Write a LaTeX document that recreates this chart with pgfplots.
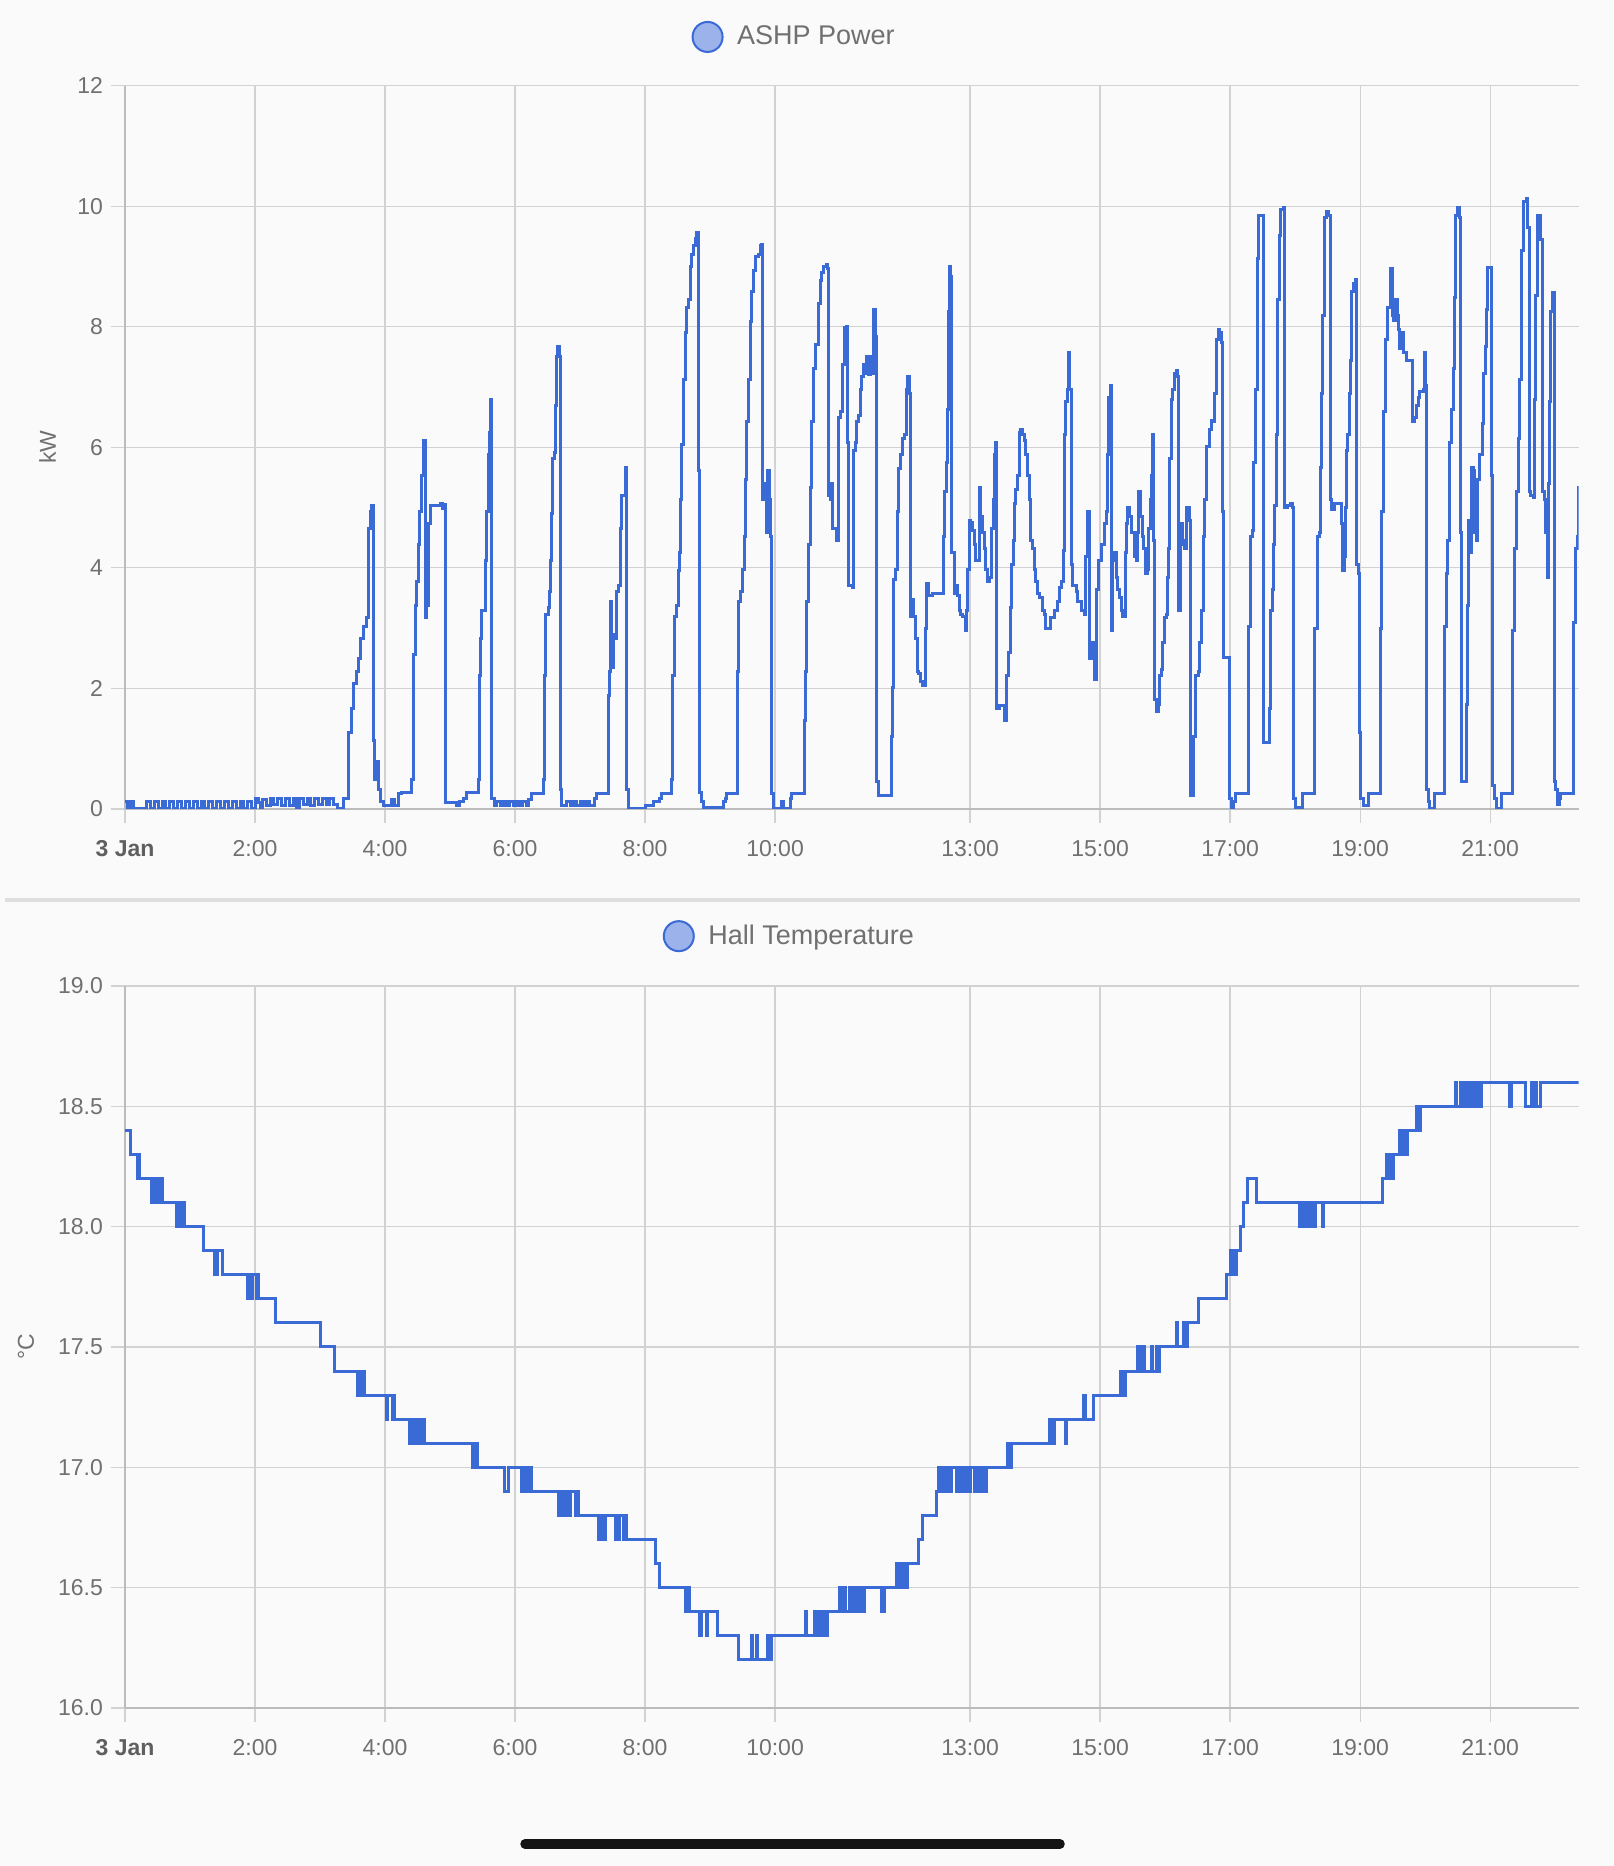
\documentclass[border=0pt]{standalone}
\usepackage{fontspec}
\setmainfont{Liberation Sans}
\usepackage{pgfplots}
\pgfplotsset{compat=1.18}
\definecolor{bg}{RGB}{250,250,250}
\definecolor{lineblue}{RGB}{57,106,214}
\definecolor{legfill}{RGB}{155,178,234}
\definecolor{gridgray}{RGB}{210,210,210}
\definecolor{axisgray}{RGB}{188,188,188}
\definecolor{labgray}{RGB}{112,112,112}
\definecolor{boldgray}{RGB}{95,95,95}
\definecolor{sepgray}{RGB}{222,222,222}

\pgfplotsset{
  hastyle/.style={
    scale only axis,
    width=726.75pt,
    xmin=0, xmax=22.36,
    xtick={0,2,4,6,8,10,13,15,17,19,21},
    xticklabels={\textcolor{boldgray}{\textbf{3 Jan}},2:00,4:00,6:00,8:00,10:00,13:00,15:00,17:00,19:00,21:00},
    axis x line*=bottom, axis y line*=left,
    axis line style={draw=axisgray, line width=1pt, -},
    grid=major,
    major grid style={draw=gridgray, line width=0.6pt},
    tick style={draw=gridgray, line width=0.6pt},
    major tick length=7pt,
    tick align=outside,
    tick label style={text=labgray, font=\fontsize{11.5}{13}\selectfont},
    xticklabel style={yshift=-5pt},
    yticklabel style={xshift=-0.5pt},
    label style={text=labgray, font=\fontsize{11.5}{13}\selectfont},
    legend style={draw=none, fill=none, inner sep=0pt, outer sep=0pt, anchor=west,
      font=\fontsize{13.5}{16}\selectfont, text=labgray, column sep=6.75pt, nodes={inner sep=0pt}},
    legend image code/.code={\draw[draw=lineblue, fill=legfill, line width=1pt] (7.5pt,0pt) circle (7.5pt);},
  }
}

\begin{document}
\begin{tikzpicture}
\useasboundingbox (0,0) rectangle (806.5pt,933pt);
\fill[bg] (0,0) rectangle (806.5pt,933pt);
\draw[sepgray, line width=1.7pt] (2.5pt,483pt) -- (790pt,483pt);
\draw[black!92, line width=4.75pt, line cap=round] (262.5pt,11pt) -- (530pt,11pt);

\begin{axis}[hastyle, at={(62.5pt,528.5pt)}, anchor=south west, height=361.7pt,
  ymin=0, ymax=12, ytick={0,2,4,6,8,10,12}, yticklabels={0,2,4,6,8,10,12},
  ylabel={kW}, ylabel style={at={(axis description cs:-0.0533,0.5)}, anchor=center},
  legend style={at={(0.3898,1.0672)}}]
\addplot[const plot, lineblue, line width=1.5pt] coordinates {
(0,0.12)(0.04,0)(0.08,0.12)(0.13,0)(0.33,0.12)(0.39,0)(0.45,0.12)(0.51,0)(0.57,0.12)(0.63,0)
(0.69,0.12)(0.75,0)(0.81,0.12)(0.87,0)(0.93,0.12)(0.99,0)(1.05,0.12)(1.11,0)(1.17,0.12)(1.23,0)
(1.29,0.12)(1.35,0)(1.41,0.12)(1.47,0)(1.53,0.12)(1.59,0)(1.65,0.12)(1.71,0)(1.77,0.12)(1.83,0)
(1.89,0.12)(1.95,0)(2.0,0.18)(2.05,0.1)(2.08,0.02)(2.12,0.16)(2.18,0.06)(2.24,0.18)(2.29,0.07)
(2.35,0.18)(2.41,0.06)(2.47,0.18)(2.53,0.06)(2.59,0.18)(2.64,0.03)(2.68,0.18)(2.74,0.07)(2.8,0.18)
(2.86,0.06)(2.92,0.18)(2.98,0.07)(3.04,0.18)(3.1,0.07)(3.15,0.18)(3.21,0.08)(3.27,0.0)(3.36,0.17)
(3.436,1.27)(3.487,1.67)(3.513,2.08)(3.564,2.28)(3.59,2.49)(3.626,2.83)(3.667,3.03)(3.718,3.17)
(3.744,4.66)(3.769,4.93)(3.795,5.03)(3.821,1.13)(3.836,0.49)(3.872,0.79)(3.897,0.32)(3.933,0.12)
(3.974,0.05)(4.103,0.15)(4.15,0.05)(4.205,0.25)(4.256,0.28)(4.41,0.49)(4.436,2.56)(4.462,3.37)
(4.477,3.78)(4.513,4.39)(4.538,4.93)(4.564,5.54)(4.59,6.12)(4.615,3.17)(4.641,3.37)(4.667,4.73)
(4.692,5.03)(4.846,5.06)(4.88,4.98)(4.9,5.05)(4.923,4.93)(4.938,0.1)(5.103,0.05)(5.15,0.12)
(5.205,0.18)(5.256,0.28)(5.436,0.49)(5.451,2.22)(5.472,2.83)(5.487,3.3)(5.538,4.12)(5.564,4.93)
(5.59,5.88)(5.605,6.25)(5.626,6.79)(5.641,0.18)(5.68,0.05)(5.72,0.12)(5.77,0.05)(5.82,0.12)
(5.87,0.05)(5.92,0.12)(5.97,0.05)(6.02,0.12)(6.07,0.05)(6.12,0.12)(6.17,0.05)(6.205,0.15)
(6.256,0.26)(6.436,0.49)(6.446,2.22)(6.472,3.23)(6.513,3.34)(6.528,3.61)(6.549,4.12)(6.564,4.9)
(6.579,5.81)(6.6,5.91)(6.615,6.69)(6.641,7.5)(6.656,7.67)(6.677,7.5)(6.703,0.32)(6.718,0.05)
(6.795,0.12)(6.85,0.05)(6.9,0.12)(6.95,0.05)(7.0,0.12)(7.05,0.05)(7.1,0.12)(7.15,0.05)(7.23,0.18)
(7.256,0.26)(7.436,1.88)(7.451,2.28)(7.462,3.44)(7.487,2.35)(7.513,2.9)(7.538,2.83)(7.564,3.6)
(7.59,3.7)(7.615,4.66)(7.641,5.2)(7.692,5.67)(7.718,0.32)(7.744,0.01)(8.0,0.05)(8.13,0.12)
(8.23,0.18)(8.256,0.26)(8.41,0.49)(8.426,2.22)(8.446,3.2)(8.487,3.37)(8.513,3.95)(8.528,4.25)
(8.549,5.13)(8.564,6.05)(8.59,7.13)(8.615,7.91)(8.641,8.32)(8.667,8.45)(8.692,9.0)(8.718,9.2)
(8.744,9.34)(8.769,9.47)(8.795,9.57)(8.821,5.61)(8.836,0.28)(8.872,0.12)(8.897,0.03)(9.205,0.12)
(9.23,0.18)(9.256,0.26)(9.42,2.28)(9.436,3.44)(9.462,3.6)(9.503,3.98)(9.523,4.52)(9.538,5.47)
(9.554,6.42)(9.59,7.13)(9.615,8.08)(9.641,8.59)(9.667,8.93)(9.692,9.17)(9.744,9.2)(9.769,9.34)
(9.795,9.37)(9.81,5.13)(9.846,5.4)(9.872,4.59)(9.887,5.61)(9.913,5.13)(9.923,4.52)(9.938,0.25)
(9.974,0.01)(10.1,0.12)(10.13,0.01)(10.23,0.18)(10.256,0.26)(10.446,1.47)(10.462,2.28)(10.477,3.44)
(10.513,4.39)(10.538,5.34)(10.564,6.42)(10.59,7.3)(10.615,7.71)(10.667,8.39)(10.692,8.76)(10.718,8.9)
(10.744,9.0)(10.785,9.03)(10.805,8.96)(10.821,5.2)(10.846,5.13)(10.872,5.4)(10.887,4.66)(10.949,4.45)
(10.974,6.49)(11.0,6.59)(11.036,7.37)(11.062,7.98)(11.092,8.01)(11.113,6.08)(11.128,3.71)(11.195,3.67)
(11.205,5.95)(11.231,6.08)(11.256,6.42)(11.282,6.52)(11.308,6.96)(11.333,7.17)(11.359,7.37)(11.385,7.23)
(11.41,7.5)(11.436,7.2)(11.462,7.5)(11.487,7.23)(11.52,8.28)(11.55,7.84)(11.565,0.45)(11.59,0.22)
(11.79,1.2)(11.81,2.01)(11.828,3.81)(11.853,3.98)(11.879,4.93)(11.905,5.64)(11.93,5.88)(11.956,6.15)
(11.997,6.22)(12.023,6.96)(12.044,7.17)(12.069,6.9)(12.085,3.2)(12.11,3.47)(12.136,3.2)(12.162,2.83)
(12.187,2.28)(12.213,2.25)(12.239,2.12)(12.265,2.05)(12.316,3.0)(12.332,3.74)(12.368,3.54)(12.419,3.57)
(12.584,4.52)(12.614,5.27)(12.635,5.74)(12.65,6.62)(12.666,8.25)(12.686,9.0)(12.702,8.83)(12.717,4.25)
(12.753,3.57)(12.779,3.71)(12.805,3.54)(12.83,3.3)(12.856,3.23)(12.882,3.2)(12.923,2.96)(12.943,3.3)
(12.964,3.98)(12.985,4.79)(13.01,4.76)(13.036,4.62)(13.062,4.39)(13.087,4.12)(13.139,5.34)(13.165,4.86)
(13.19,4.59)(13.216,4.32)(13.242,3.98)(13.267,3.78)(13.303,3.84)(13.334,4.66)(13.355,5.13)(13.37,5.88)
(13.396,6.08)(13.411,1.67)(13.447,1.71)(13.524,1.47)(13.56,2.22)(13.591,2.59)(13.617,3.34)(13.643,4.05)
(13.663,4.45)(13.684,5.06)(13.704,5.3)(13.73,5.54)(13.756,6.25)(13.781,6.29)(13.807,6.22)(13.833,6.12)
(13.859,5.88)(13.884,5.54)(13.91,5.13)(13.936,4.45)(13.961,4.32)(13.987,3.98)(14.013,3.78)(14.039,3.57)
(14.064,3.5)(14.116,3.3)(14.141,3.23)(14.167,3.0)(14.244,3.17)(14.295,3.3)(14.347,3.44)(14.373,3.67)
(14.414,3.78)(14.434,4.28)(14.449,6.22)(14.475,6.76)(14.5,6.96)(14.517,7.57)(14.537,6.96)(14.553,4.05)
(14.578,3.71)(14.63,3.6)(14.655,3.44)(14.707,3.3)(14.758,3.23)(14.774,4.18)(14.81,4.93)(14.836,2.49)
(14.861,2.62)(14.887,2.76)(14.913,2.15)(14.938,3.64)(14.979,4.12)(15.015,4.39)(15.067,4.73)(15.093,4.93)
(15.113,5.88)(15.134,6.83)(15.154,7.03)(15.17,2.96)(15.195,4.12)(15.221,4.25)(15.247,3.84)(15.273,3.64)
(15.298,3.5)(15.324,3.3)(15.35,3.2)(15.391,4.25)(15.411,4.73)(15.427,5.0)(15.452,4.86)(15.478,4.59)
(15.529,4.18)(15.555,4.12)(15.581,4.59)(15.596,5.27)(15.617,4.86)(15.648,4.52)(15.668,4.32)(15.699,3.91)
(15.735,3.98)(15.751,4.66)(15.771,5.13)(15.792,5.54)(15.812,6.22)(15.823,4.45)(15.838,1.81)(15.864,1.61)
(15.895,1.74)(15.915,2.22)(15.941,2.32)(15.966,2.76)(15.992,3.17)(16.018,3.23)(16.044,3.84)(16.059,4.32)
(16.069,5.81)(16.095,6.79)(16.121,6.96)(16.146,7.23)(16.172,7.27)(16.198,7.17)(16.213,3.3)(16.234,4.39)
(16.249,4.73)(16.275,4.45)(16.301,4.32)(16.326,5.0)(16.378,4.79)(16.388,0.22)(16.44,1.2)(16.471,2.22)
(16.507,2.28)(16.532,2.76)(16.558,3.3)(16.584,4.52)(16.609,5.13)(16.635,6.01)(16.686,6.29)(16.712,6.45)
(16.738,6.42)(16.763,6.9)(16.789,7.78)(16.815,7.95)(16.84,7.91)(16.866,7.74)(16.882,4.93)(16.902,2.52)
(16.985,0.18)(17.02,0.03)(17.057,0.12)(17.087,0.25)(17.285,3.03)(17.316,4.52)(17.352,4.62)(17.367,5.74)
(17.393,6.96)(17.418,9.13)(17.434,9.84)(17.51,5.47)(17.52,1.1)(17.602,1.67)(17.622,3.3)(17.647,3.64)
(17.663,4.39)(17.684,5.03)(17.709,6.22)(17.735,8.45)(17.76,9.51)(17.776,9.95)(17.827,9.98)(17.842,5.0)
(17.878,5.03)(17.929,5.06)(17.954,5.0)(17.969,0.18)(18.005,0.03)(18.107,0.25)(18.296,3.0)(18.347,4.52)
(18.378,4.59)(18.398,5.67)(18.413,6.9)(18.429,8.18)(18.449,9.81)(18.49,9.91)(18.52,9.84)(18.541,5.13)
(18.566,4.96)(18.602,5.06)(18.719,4.73)(18.735,3.95)(18.755,4.18)(18.77,5.0)(18.786,5.95)(18.806,6.22)
(18.837,6.9)(18.857,7.44)(18.872,8.59)(18.898,8.72)(18.923,8.79)(18.939,4.05)(18.974,3.91)(18.99,1.27)
(19.01,0.18)(19.051,0.05)(19.128,0.25)(19.306,3.0)(19.332,4.93)(19.357,6.59)(19.383,7.3)(19.398,7.78)
(19.418,8.32)(19.464,8.45)(19.474,8.96)(19.495,8.18)(19.52,8.11)(19.546,8.45)(19.571,8.18)(19.587,7.95)
(19.612,7.64)(19.638,7.91)(19.663,7.57)(19.714,7.44)(19.806,6.42)(19.842,6.49)(19.867,6.69)(19.893,6.83)
(19.918,6.93)(19.969,6.96)(19.985,7.57)(20.005,7.03)(20.02,0.32)(20.046,0.12)(20.071,0.01)(20.148,0.25)
(20.301,3.03)(20.327,3.91)(20.352,4.45)(20.378,6.08)(20.403,6.62)(20.429,7.3)(20.454,8.49)(20.47,9.84)
(20.505,9.98)(20.531,9.81)(20.546,4.59)(20.566,0.45)(20.633,1.74)(20.648,3.37)(20.673,4.79)(20.694,4.25)
(20.709,5.67)(20.745,5.61)(20.76,4.59)(20.786,4.45)(20.811,5.47)(20.837,5.88)(20.878,6.39)(20.898,7.23)
(20.929,7.67)(20.949,8.28)(20.964,8.99)(21.015,5.54)(21.041,0.39)(21.066,0.18)(21.092,0.01)(21.168,0.25)
(21.347,2.96)(21.372,4.32)(21.408,5.27)(21.439,6.15)(21.459,7.13)(21.49,9.27)(21.51,10.08)(21.561,10.12)
(21.582,9.64)(21.602,5.27)(21.628,5.2)(21.663,5.17)(21.679,6.79)(21.704,8.52)(21.73,9.84)(21.781,9.44)
(21.806,5.27)(21.832,5.13)(21.857,4.59)(21.883,3.84)(21.898,5.4)(21.918,6.76)(21.934,8.25)(21.959,8.56)
(21.985,0.45)(22.01,0.32)(22.036,0.08)(22.061,0.18)(22.087,0.25)(22.281,3.1)(22.306,4.32)(22.342,4.52)
(22.357,5.34)(22.36,5.34)
};
\addlegendentry{ASHP Power}
\end{axis}

\begin{axis}[hastyle, at={(62.5pt,79pt)}, anchor=south west, height=361pt,
  ymin=16, ymax=19, ytick={16,16.5,17,17.5,18,18.5,19},
  yticklabels={16.0,16.5,17.0,17.5,18.0,18.5,19.0},
  ylabel={°C}, ylabel style={at={(axis description cs:-0.0681,0.5)}, anchor=center},
  legend style={at={(0.370,1.069)}}]
\addplot[const plot, lineblue, line width=1.5pt] coordinates {
(0,18.4)(0.085,18.3)(0.19,18.2)(0.205,18.3)(0.226,18.2)
(0.40,18.1)(0.42,18.2)(0.44,18.1)(0.46,18.2)(0.48,18.1)(0.50,18.2)(0.52,18.1)(0.53,18.2)(0.58,18.1)
(0.79,18.0)(0.81,18.1)(0.83,18.0)(0.85,18.1)(0.87,18.0)(0.90,18.1)(0.92,18.0)
(1.21,17.9)(1.375,17.8)(1.425,17.9)(1.5,17.8)
(1.885,17.7)(1.9,17.8)(1.94,17.7)(1.955,17.8)(2.03,17.7)(2.045,17.8)(2.06,17.7)
(2.31,17.6)(3.0,17.5)(3.23,17.4)
(3.57,17.3)(3.585,17.4)(3.64,17.3)(3.655,17.4)(3.69,17.3)
(4.03,17.2)(4.045,17.3)(4.11,17.2)(4.125,17.3)(4.15,17.2)
(4.37,17.1)(4.39,17.2)(4.41,17.1)(4.43,17.2)(4.45,17.1)(4.47,17.2)(4.49,17.1)(4.51,17.2)(4.53,17.1)
(4.55,17.2)(4.57,17.1)(4.59,17.2)(4.61,17.1)
(5.35,17.0)(5.37,17.1)(5.39,17.0)(5.41,17.1)(5.43,17.0)
(5.84,16.9)(5.9,17.0)
(6.1,16.9)(6.12,17.0)(6.14,16.9)(6.16,17.0)(6.18,16.9)(6.2,17.0)(6.22,16.9)(6.24,17.0)(6.25,16.9)
(6.67,16.8)(6.69,16.9)(6.71,16.8)(6.73,16.9)(6.75,16.8)(6.77,16.9)(6.79,16.8)(6.81,16.9)(6.83,16.8)
(6.85,16.9)(6.93,16.8)(6.95,16.9)(6.98,16.8)
(7.29,16.7)(7.31,16.8)(7.33,16.7)(7.35,16.8)(7.37,16.7)(7.39,16.8)
(7.54,16.7)(7.56,16.8)(7.58,16.7)(7.6,16.8)(7.67,16.7)(7.685,16.8)(7.71,16.7)
(8.16,16.6)(8.23,16.5)
(8.63,16.4)(8.645,16.5)(8.66,16.4)(8.675,16.5)(8.69,16.4)
(8.83,16.3)(8.845,16.4)(8.86,16.3)(8.875,16.4)(8.95,16.3)(8.965,16.4)
(9.12,16.3)(9.44,16.2)(9.64,16.3)(9.655,16.2)(9.71,16.3)(9.725,16.2)(9.89,16.3)(9.905,16.2)(9.94,16.3)
(10.47,16.4)(10.485,16.3)(10.6,16.4)(10.62,16.3)(10.64,16.4)(10.66,16.3)(10.68,16.4)(10.70,16.3)
(10.72,16.4)(10.74,16.3)(10.76,16.4)(10.79,16.3)(10.81,16.4)
(10.99,16.5)(11.01,16.4)(11.03,16.5)(11.05,16.4)(11.07,16.5)(11.09,16.4)(11.14,16.5)(11.16,16.4)
(11.18,16.5)(11.2,16.4)(11.22,16.5)(11.24,16.4)(11.26,16.5)(11.28,16.4)(11.30,16.5)(11.32,16.4)
(11.34,16.5)(11.36,16.4)(11.37,16.5)
(11.64,16.4)(11.68,16.5)
(11.87,16.6)(11.89,16.5)(11.91,16.6)(11.93,16.5)(11.95,16.6)(11.97,16.5)(11.99,16.6)(12.01,16.5)(12.03,16.6)
(12.21,16.7)(12.27,16.8)(12.48,16.9)
(12.52,17.0)(12.54,16.9)(12.56,17.0)(12.58,16.9)(12.60,17.0)(12.62,16.9)(12.64,17.0)(12.66,16.9)
(12.68,17.0)(12.7,16.9)(12.72,17.0)
(12.79,16.9)(12.81,17.0)(12.83,16.9)(12.85,17.0)(12.87,16.9)(12.89,17.0)(12.91,16.9)(12.93,17.0)
(12.95,16.9)(12.97,17.0)(12.99,16.9)(13.01,17.0)
(13.07,16.9)(13.09,17.0)(13.11,16.9)(13.13,17.0)(13.15,16.9)(13.17,17.0)(13.19,16.9)(13.21,17.0)
(13.23,16.9)(13.25,17.0)
(13.57,17.1)(13.585,17.0)(13.64,17.1)
(14.22,17.2)(14.24,17.1)(14.26,17.2)(14.28,17.1)(14.30,17.2)(14.47,17.1)(14.485,17.2)
(14.74,17.3)(14.78,17.2)(14.9,17.3)
(15.31,17.4)(15.33,17.3)(15.35,17.4)(15.37,17.3)(15.39,17.4)
(15.58,17.5)(15.6,17.4)(15.62,17.5)(15.64,17.4)(15.66,17.5)(15.68,17.4)
(15.79,17.5)(15.805,17.4)(15.87,17.5)(15.885,17.4)(15.92,17.5)
(16.17,17.6)(16.185,17.5)(16.28,17.6)(16.295,17.5)(16.34,17.6)
(16.51,17.7)(16.95,17.8)(17.01,17.9)(17.025,17.8)(17.07,17.9)(17.085,17.8)(17.1,17.9)
(17.16,18.0)(17.2,18.1)(17.27,18.2)(17.4,18.1)
(18.06,18.0)(18.08,18.1)(18.10,18.0)(18.12,18.1)(18.14,18.0)(18.16,18.1)(18.18,18.0)(18.20,18.1)
(18.22,18.0)(18.24,18.1)(18.26,18.0)(18.28,18.1)(18.30,18.0)(18.32,18.1)
(18.42,18.0)(18.44,18.1)
(19.34,18.2)(19.4,18.3)(19.42,18.2)(19.44,18.3)(19.46,18.2)(19.48,18.3)(19.5,18.2)(19.51,18.3)
(19.61,18.4)(19.63,18.3)(19.65,18.4)(19.67,18.3)(19.69,18.4)(19.71,18.3)(19.73,18.4)
(19.86,18.5)(19.88,18.4)(19.9,18.5)(19.92,18.4)(19.93,18.5)
(20.47,18.6)(20.485,18.5)(20.55,18.6)(20.57,18.5)(20.59,18.6)(20.61,18.5)(20.63,18.6)(20.65,18.5)
(20.67,18.6)(20.69,18.5)(20.71,18.6)(20.73,18.5)(20.75,18.6)(20.77,18.5)(20.79,18.6)(20.81,18.5)
(20.83,18.6)(20.85,18.5)(20.87,18.6)
(21.3,18.5)(21.325,18.6)(21.54,18.5)(21.63,18.6)(21.645,18.5)(21.7,18.6)(21.715,18.5)(21.77,18.6)
(22.36,18.6)
};
\addlegendentry{Hall Temperature}
\end{axis}
\end{tikzpicture}
\end{document}
